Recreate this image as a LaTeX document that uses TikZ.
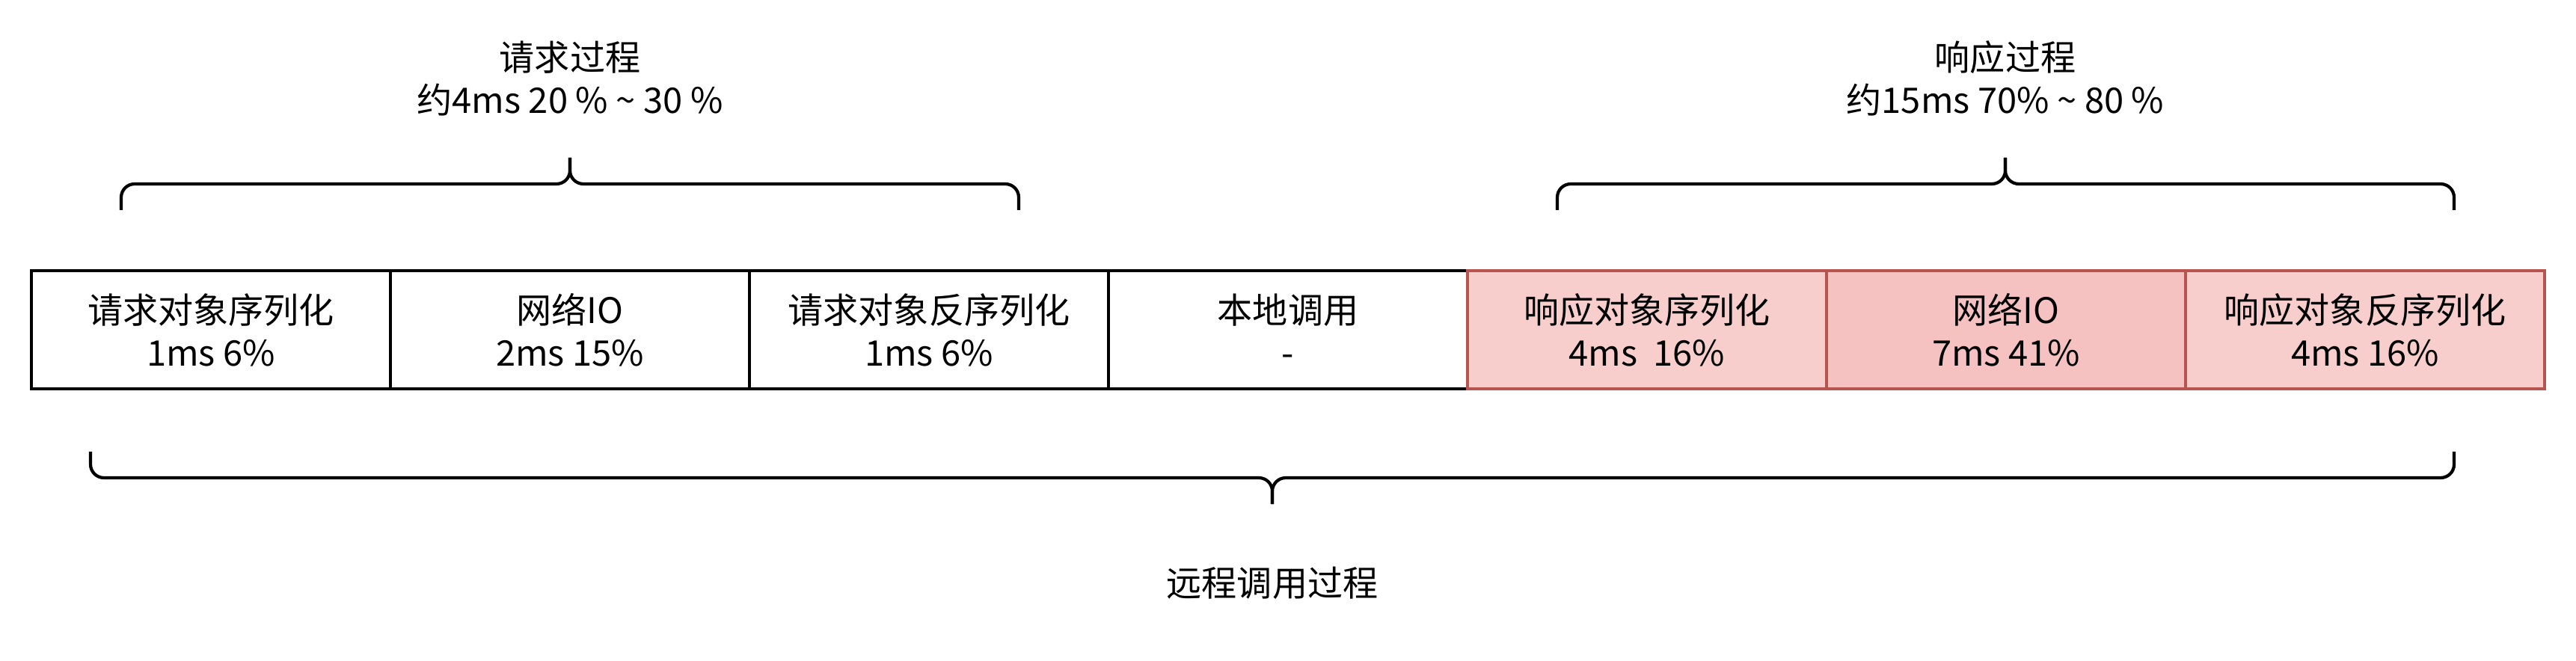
\documentclass[tikz,border=0pt]{standalone}
\usepackage{fontspec}
\setmainfont{Noto Sans CJK SC}
\usepackage{xcolor}
\usepackage{tikz}
\usetikzlibrary{positioning}
\definecolor{respbg}{HTML}{F8CECC}
\definecolor{respbg2}{HTML}{F5C1C1}
\definecolor{respline}{HTML}{B85450}
\tikzset{
  stage/.style  = {draw=black, line width=0.9pt, fill=white, align=center,
                   minimum width=4.8cm, minimum height=1.58cm, inner sep=0pt,
                   outer sep=0pt, font=\fontsize{13.4}{16.2}\selectfont},
  rstage/.style = {stage, draw=respline, fill=respbg},
  rstage2/.style= {stage, draw=respline, fill=respbg2},
  brc/.style    = {line width=1.2pt, rounded corners=0.18cm},
  lbl/.style    = {align=center, font=\fontsize{13.4}{16.2}\selectfont},
}
\begin{document}
\begin{tikzpicture}
  \useasboundingbox (0,0) rectangle (34.44,-8.84);
  % stages
  \node[stage] (req1) at (2.82,-4.41) {请求对象序列化\\1ms 6\%};
  \node[stage, right=0pt of req1] (net1) {网络IO\\2ms 15\%};
  \node[stage, right=0pt of net1] (req2) {请求对象反序列化\\1ms 6\%};
  \node[stage, right=0pt of req2] (local) {本地调用\\-};
  \node[rstage, right=0pt of local] (resp1) {响应对象序列化\\4ms\ \ 16\%};
  \node[rstage2, right=0pt of resp1] (net2) {网络IO\\7ms 41\%};
  \node[rstage, right=0pt of net2] (resp2) {响应对象反序列化\\4ms 16\%};
  % braces
  \draw[brc] (1.62,-2.81) |- (7.62,-2.46) -- (7.62,-2.11);
  \draw[brc] (13.62,-2.81) |- (7.62,-2.46) -- (7.62,-2.11);
  \draw[brc] (20.82,-2.81) |- (26.81,-2.46) -- (26.81,-2.11);
  \draw[brc] (32.81,-2.81) |- (26.81,-2.46) -- (26.81,-2.11);
  \draw[brc] (1.21,-6.04) |- (17.01,-6.39) -- (17.01,-6.74);
  \draw[brc] (32.81,-6.04) |- (17.01,-6.39) -- (17.01,-6.74);
  % labels
  \node[lbl] (reqlbl) at (7.62,-1.05) {请求过程\\约4ms 20 \% \textasciitilde{} 30 \%};
  \node[lbl] (resplbl) at (26.81,-1.05) {响应过程\\约15ms 70\% \textasciitilde{} 80 \%};
  \node[lbl] (rpclbl) at (17.01,-7.80) {远程调用过程};
\end{tikzpicture}
\end{document}
